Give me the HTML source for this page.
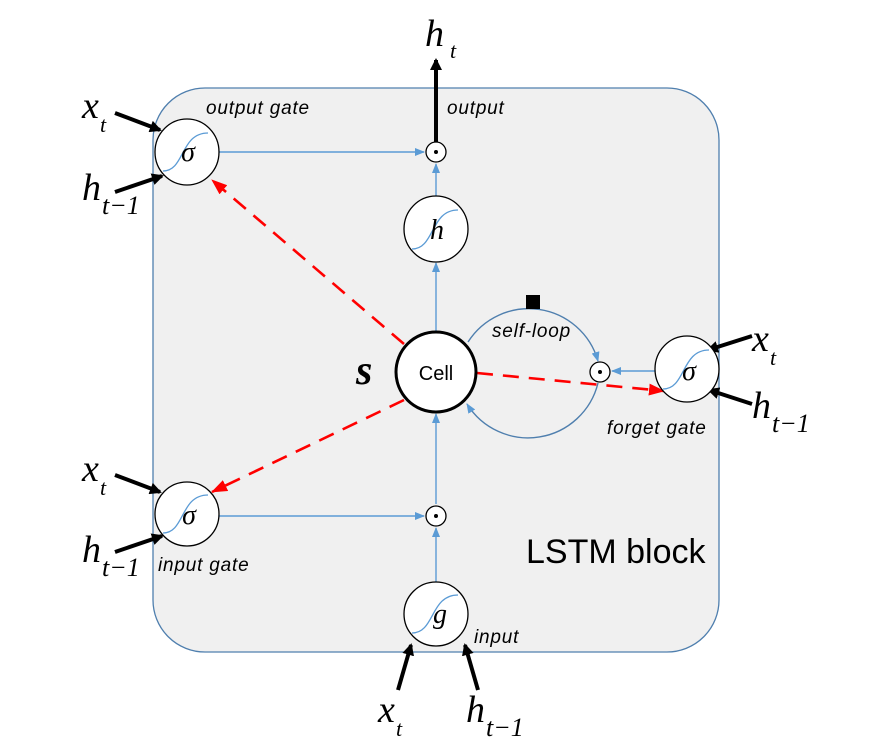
<!DOCTYPE html>
<html><head><meta charset="utf-8"><style>
html,body{margin:0;padding:0;background:#fff;}
svg{display:block;}
.m{font-family:"Liberation Serif",serif;font-style:italic;}
.l{font-family:"Liberation Sans",sans-serif;font-style:italic;font-size:19px;letter-spacing:0.8px;}
</style></head><body>
<svg width="888" height="742" viewBox="0 0 888 742" xmlns="http://www.w3.org/2000/svg">
<defs>
<marker id="ab" markerWidth="10" markerHeight="8" refX="9" refY="4" orient="auto" markerUnits="userSpaceOnUse"><path d="M0,0 L10,4 L0,8z" fill="#5b9bd5"/></marker>
<marker id="ar" markerWidth="16" markerHeight="12" refX="15" refY="6" orient="auto" markerUnits="userSpaceOnUse"><path d="M0,0 L16,6 L0,12z" fill="#ff0000"/></marker>
<marker id="ak" markerWidth="12" markerHeight="12" refX="10" refY="6" orient="auto" markerUnits="userSpaceOnUse"><path d="M0,0 L12,6 L0,12z" fill="#000"/></marker>
</defs>
<rect x="153" y="88" width="566" height="564" rx="52" fill="#f0f0f0" stroke="#4f7fae" stroke-width="1.3"/>
<g stroke="#5b9bd5" stroke-width="1.4" fill="none">
<line x1="219" y1="152" x2="424" y2="152" marker-end="url(#ab)"/>
<line x1="436" y1="197" x2="436" y2="164" marker-end="url(#ab)"/>
<line x1="436" y1="332" x2="436" y2="263" marker-end="url(#ab)"/>
<line x1="436" y1="582" x2="436" y2="528" marker-end="url(#ab)"/>
<line x1="219" y1="516" x2="424" y2="516" marker-end="url(#ab)"/>
<line x1="436" y1="504" x2="436" y2="414" marker-end="url(#ab)"/>
<line x1="655" y1="371" x2="612" y2="371" marker-end="url(#ab)"/>
<path d="M468,342 A72,72 0 0 1 598,361" marker-end="url(#ab)" stroke="#4f7fae"/>
<path d="M598,383 A72,72 0 0 1 467,404" marker-end="url(#ab)" stroke="#4f7fae"/>
</g>
<rect x="526" y="295" width="14" height="14" fill="#000"/>
<g stroke="#ff0000" stroke-width="2.6" fill="none" stroke-dasharray="16,10">
<line x1="404" y1="344" x2="212" y2="180" marker-end="url(#ar)"/>
<line x1="404" y1="400" x2="212" y2="492" marker-end="url(#ar)"/>
<line x1="477" y1="373" x2="664" y2="391" marker-end="url(#ar)"/>
</g>
<g stroke="#000" stroke-width="4" fill="none">
<line x1="115" y1="113" x2="160" y2="130" marker-end="url(#ak)"/>
<line x1="115" y1="192" x2="162" y2="176" marker-end="url(#ak)"/>
<line x1="115" y1="475" x2="160" y2="492" marker-end="url(#ak)"/>
<line x1="115" y1="552" x2="162" y2="536" marker-end="url(#ak)"/>
<line x1="752" y1="336" x2="708" y2="350" marker-end="url(#ak)"/>
<line x1="752" y1="404" x2="709" y2="390" marker-end="url(#ak)"/>
<line x1="398" y1="690" x2="411" y2="645" marker-end="url(#ak)"/>
<line x1="478" y1="690" x2="465" y2="645" marker-end="url(#ak)"/>
<line x1="436" y1="142" x2="436" y2="60" marker-end="url(#ak)"/>
</g>
<g stroke="#000" stroke-width="1.3" fill="#fff">
<ellipse cx="187" cy="152" rx="32" ry="33"/>
<ellipse cx="436" cy="229" rx="32" ry="33"/>
<ellipse cx="687" cy="369" rx="32" ry="33"/>
<ellipse cx="187" cy="514" rx="32" ry="32"/>
<ellipse cx="436" cy="614" rx="32" ry="32"/>
<circle cx="436" cy="152" r="10"/>
<circle cx="436" cy="516" r="10"/>
<circle cx="600" cy="372" r="10"/>
<circle cx="436" cy="372" r="40" stroke-width="3"/>
</g>
<g fill="#000"><circle cx="436" cy="152" r="2"/><circle cx="436" cy="516" r="2"/><circle cx="600" cy="372" r="2"/></g>
<g stroke="#5b9bd5" stroke-width="1.3" fill="none">
<path d="M163,171 C185,171 180,133 208,133"/>
<path d="M412,249 C435,249 430,210 458,210"/>
<path d="M663,389 C686,389 681,350 709,350"/>
<path d="M163,533 C185,533 180,495 208,495"/>
<path d="M412,633 C435,633 430,595 458,595"/>
</g>
<g class="m" font-size="28" text-anchor="middle">
<text x="188" y="161">σ</text><text x="689" y="380">σ</text><text x="189" y="524">σ</text>
<text x="437" y="239">h</text><text x="440" y="623">g</text>
</g>
<text x="436" y="380" font-family="Liberation Sans,sans-serif" font-size="20" text-anchor="middle">Cell</text>
<text x="356" y="384" class="m" font-size="42" font-weight="bold">s</text>
<text x="526" y="563" font-family="Liberation Sans,sans-serif" font-size="34">LSTM block</text>
<text class="l" x="206" y="114">output gate</text>
<text class="l" x="447" y="114">output</text>
<text class="l" x="492" y="337">self-loop</text>
<text class="l" x="607" y="434">forget gate</text>
<text class="l" x="158" y="571">input gate</text>
<text class="l" x="474" y="643">input</text>
<g class="m" font-size="38">
<text x="425" y="46">h</text><text x="450" y="58" font-size="22">t</text>
<text x="82" y="118">x</text><text x="100" y="132" font-size="22">t</text>
<text x="82" y="200">h</text><text x="102" y="214" font-size="26">t−1</text>
<text x="82" y="481">x</text><text x="100" y="495" font-size="22">t</text>
<text x="82" y="562">h</text><text x="102" y="576" font-size="26">t−1</text>
<text x="752" y="351">x</text><text x="770" y="365" font-size="22">t</text>
<text x="752" y="418">h</text><text x="772" y="432" font-size="26">t−1</text>
<text x="378" y="722">x</text><text x="396" y="736" font-size="22">t</text>
<text x="466" y="722">h</text><text x="486" y="736" font-size="26">t−1</text>
</g>
</svg>
</body></html>
